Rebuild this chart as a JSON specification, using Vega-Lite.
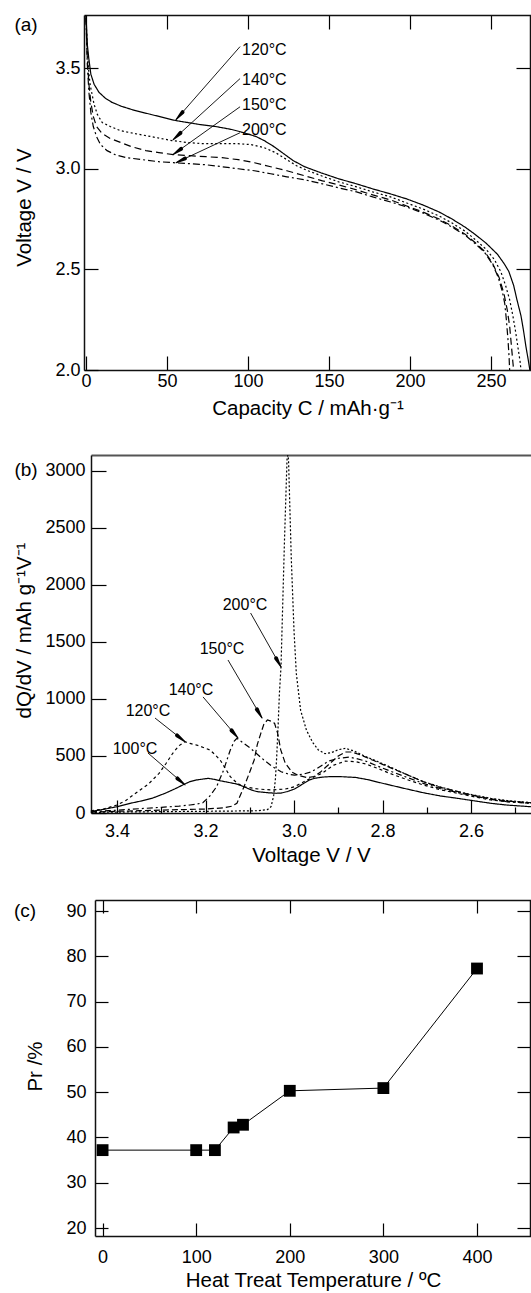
{
"$schema": "https://vega.github.io/schema/vega-lite/v6.json",
"width": 531, "height": 1293,
"autosize": {"type": "none"},
"padding": 0,
"background": "white",
"config": {
  "view": {"stroke": null},
  "font": "Liberation Sans",
  "axis": {"grid": false, "labelFont": "Liberation Sans", "titleFont": "Liberation Sans", "labelFontSize": 18, "titleFontSize": 20.5, "titleFontWeight": "normal", "labelColor": "#000", "titleColor": "#000", "tickColor": "#000", "domainColor": "#111", "domainWidth": 1.5, "tickWidth": 1.2, "labelFlush": false, "labelOverlap": false}
},
"datasets": {
  "a_curves": [
    {"t":"120","cap":0,"V":3.78},{"t":"120","cap":0.8,"V":3.62},{"t":"120","cap":1.7,"V":3.55},{"t":"120","cap":3,"V":3.47},{"t":"120","cap":5,"V":3.42},{"t":"120","cap":8,"V":3.38},{"t":"120","cap":12,"V":3.35},{"t":"120","cap":16,"V":3.33},{"t":"120","cap":22,"V":3.31},{"t":"120","cap":30,"V":3.29},{"t":"120","cap":40,"V":3.27},{"t":"120","cap":55,"V":3.24},{"t":"120","cap":70,"V":3.22},{"t":"120","cap":80,"V":3.21},{"t":"120","cap":90,"V":3.195},{"t":"120","cap":97,"V":3.18},{"t":"120","cap":105,"V":3.16},{"t":"120","cap":110,"V":3.14},{"t":"120","cap":116,"V":3.11},{"t":"120","cap":122,"V":3.075},{"t":"120","cap":128,"V":3.04},{"t":"120","cap":135,"V":3.01},{"t":"120","cap":145,"V":2.98},{"t":"120","cap":156,"V":2.95},{"t":"120","cap":167,"V":2.925},{"t":"120","cap":177,"V":2.9},{"t":"120","cap":188,"V":2.875},{"t":"120","cap":198,"V":2.85},{"t":"120","cap":208,"V":2.82},{"t":"120","cap":218,"V":2.785},{"t":"120","cap":226,"V":2.75},{"t":"120","cap":234,"V":2.71},{"t":"120","cap":240,"V":2.675},{"t":"120","cap":247,"V":2.63},{"t":"120","cap":254,"V":2.575},{"t":"120","cap":258,"V":2.53},{"t":"120","cap":261,"V":2.49},{"t":"120","cap":264,"V":2.42},{"t":"120","cap":266,"V":2.35},{"t":"120","cap":268.5,"V":2.27},{"t":"120","cap":270,"V":2.2},{"t":"120","cap":271.5,"V":2.12},{"t":"120","cap":273,"V":2.05},{"t":"120","cap":274,"V":2.0},
    {"t":"140","cap":0,"V":3.76},{"t":"140","cap":0.8,"V":3.6},{"t":"140","cap":1.5,"V":3.5},{"t":"140","cap":2.5,"V":3.42},{"t":"140","cap":3.5,"V":3.38},{"t":"140","cap":5,"V":3.32},{"t":"140","cap":7,"V":3.27},{"t":"140","cap":10,"V":3.23},{"t":"140","cap":15,"V":3.21},{"t":"140","cap":21,"V":3.19},{"t":"140","cap":30,"V":3.175},{"t":"140","cap":40,"V":3.16},{"t":"140","cap":53,"V":3.14},{"t":"140","cap":63,"V":3.13},{"t":"140","cap":72,"V":3.125},{"t":"140","cap":82,"V":3.125},{"t":"140","cap":93,"V":3.125},{"t":"140","cap":102,"V":3.12},{"t":"140","cap":110,"V":3.105},{"t":"140","cap":117,"V":3.08},{"t":"140","cap":124,"V":3.045},{"t":"140","cap":130,"V":3.015},{"t":"140","cap":137,"V":2.99},{"t":"140","cap":147,"V":2.96},{"t":"140","cap":156,"V":2.935},{"t":"140","cap":167,"V":2.91},{"t":"140","cap":177,"V":2.885},{"t":"140","cap":188,"V":2.86},{"t":"140","cap":198,"V":2.83},{"t":"140","cap":208,"V":2.8},{"t":"140","cap":218,"V":2.765},{"t":"140","cap":226,"V":2.73},{"t":"140","cap":234,"V":2.69},{"t":"140","cap":240,"V":2.65},{"t":"140","cap":247,"V":2.6},{"t":"140","cap":252,"V":2.55},{"t":"140","cap":256,"V":2.49},{"t":"140","cap":259,"V":2.42},{"t":"140","cap":261.5,"V":2.35},{"t":"140","cap":263.5,"V":2.27},{"t":"140","cap":265,"V":2.2},{"t":"140","cap":266.5,"V":2.12},{"t":"140","cap":268,"V":2.04},{"t":"140","cap":268.5,"V":2.0},
    {"t":"150","cap":0,"V":3.75},{"t":"150","cap":0.8,"V":3.55},{"t":"150","cap":1.8,"V":3.42},{"t":"150","cap":3,"V":3.33},{"t":"150","cap":4.5,"V":3.26},{"t":"150","cap":6.5,"V":3.21},{"t":"150","cap":10,"V":3.175},{"t":"150","cap":15,"V":3.15},{"t":"150","cap":20,"V":3.135},{"t":"150","cap":28,"V":3.11},{"t":"150","cap":37,"V":3.09},{"t":"150","cap":45,"V":3.08},{"t":"150","cap":54,"V":3.07},{"t":"150","cap":64,"V":3.065},{"t":"150","cap":74,"V":3.06},{"t":"150","cap":84,"V":3.055},{"t":"150","cap":94,"V":3.045},{"t":"150","cap":104,"V":3.03},{"t":"150","cap":114,"V":3.01},{"t":"150","cap":124,"V":2.99},{"t":"150","cap":135,"V":2.965},{"t":"150","cap":146,"V":2.94},{"t":"150","cap":156,"V":2.92},{"t":"150","cap":167,"V":2.895},{"t":"150","cap":177,"V":2.87},{"t":"150","cap":188,"V":2.845},{"t":"150","cap":198,"V":2.815},{"t":"150","cap":208,"V":2.785},{"t":"150","cap":218,"V":2.75},{"t":"150","cap":226,"V":2.715},{"t":"150","cap":234,"V":2.675},{"t":"150","cap":240,"V":2.635},{"t":"150","cap":246,"V":2.59},{"t":"150","cap":251,"V":2.53},{"t":"150","cap":255,"V":2.46},{"t":"150","cap":258,"V":2.38},{"t":"150","cap":260,"V":2.3},{"t":"150","cap":261.5,"V":2.22},{"t":"150","cap":262.5,"V":2.13},{"t":"150","cap":263.5,"V":2.04},{"t":"150","cap":264,"V":2.0},
    {"t":"200","cap":0,"V":3.75},{"t":"200","cap":0.8,"V":3.52},{"t":"200","cap":1.8,"V":3.38},{"t":"200","cap":3,"V":3.28},{"t":"200","cap":4.5,"V":3.21},{"t":"200","cap":6.5,"V":3.16},{"t":"200","cap":9,"V":3.12},{"t":"200","cap":13,"V":3.09},{"t":"200","cap":18,"V":3.07},{"t":"200","cap":25,"V":3.055},{"t":"200","cap":35,"V":3.045},{"t":"200","cap":45,"V":3.035},{"t":"200","cap":54,"V":3.03},{"t":"200","cap":64,"V":3.025},{"t":"200","cap":74,"V":3.02},{"t":"200","cap":84,"V":3.01},{"t":"200","cap":94,"V":3.0},{"t":"200","cap":104,"V":2.99},{"t":"200","cap":114,"V":2.975},{"t":"200","cap":124,"V":2.96},{"t":"200","cap":135,"V":2.945},{"t":"200","cap":146,"V":2.925},{"t":"200","cap":156,"V":2.905},{"t":"200","cap":167,"V":2.885},{"t":"200","cap":177,"V":2.86},{"t":"200","cap":188,"V":2.835},{"t":"200","cap":198,"V":2.81},{"t":"200","cap":208,"V":2.78},{"t":"200","cap":218,"V":2.745},{"t":"200","cap":226,"V":2.71},{"t":"200","cap":234,"V":2.67},{"t":"200","cap":240,"V":2.63},{"t":"200","cap":246,"V":2.585},{"t":"200","cap":251,"V":2.525},{"t":"200","cap":254.5,"V":2.46},{"t":"200","cap":257,"V":2.39},{"t":"200","cap":258.5,"V":2.33},{"t":"200","cap":259.5,"V":2.25},{"t":"200","cap":260.5,"V":2.15},{"t":"200","cap":261.2,"V":2.06},{"t":"200","cap":261.5,"V":2.0}
  ],
  "a_arrows": [
    {"t":"120","cap":95.1,"V":3.607,"cap2":55.6,"V2":3.244},
    {"t":"140","cap":95.1,"V":3.448,"cap2":53.7,"V2":3.144},
    {"t":"150","cap":95.1,"V":3.308,"cap2":53.7,"V2":3.07},
    {"t":"200","cap":95.1,"V":3.179,"cap2":55.6,"V2":3.03}
  ],
  "a_heads": [
    {"t":"120","k":0,"cap":59.6,"V":3.281},{"t":"120","k":1,"cap":55.6,"V":3.244},
    {"t":"140","k":0,"cap":58.3,"V":3.178},{"t":"140","k":1,"cap":53.7,"V":3.144},
    {"t":"150","k":0,"cap":58.7,"V":3.099},{"t":"150","k":1,"cap":53.7,"V":3.07},
    {"t":"200","k":0,"cap":61.1,"V":3.051},{"t":"200","k":1,"cap":55.6,"V":3.03}
  ],
  "a_notes": [
    {"lab":"120°C","cap":96.3,"V":3.592},
    {"lab":"140°C","cap":96.3,"V":3.443},
    {"lab":"150°C","cap":96.3,"V":3.318},
    {"lab":"200°C","cap":96.3,"V":3.194}
  ],
  "a_panel": [{"lab":"(a)","cap":-37,"V":3.716}],
  "b_curves": [
    {"t":"100","V":3.459,"q":15},{"t":"100","V":3.44,"q":25},{"t":"100","V":3.42,"q":40},{"t":"100","V":3.4,"q":55},{"t":"100","V":3.37,"q":85},{"t":"100","V":3.34,"q":110},{"t":"100","V":3.32,"q":130},{"t":"100","V":3.29,"q":175},{"t":"100","V":3.27,"q":210},{"t":"100","V":3.247,"q":254},{"t":"100","V":3.235,"q":275},{"t":"100","V":3.22,"q":290},{"t":"100","V":3.205,"q":298},{"t":"100","V":3.194,"q":304},{"t":"100","V":3.18,"q":295},{"t":"100","V":3.167,"q":283},{"t":"100","V":3.15,"q":270},{"t":"100","V":3.129,"q":254},{"t":"100","V":3.11,"q":225},{"t":"100","V":3.095,"q":200},{"t":"100","V":3.083,"q":187},{"t":"100","V":3.06,"q":178},{"t":"100","V":3.04,"q":173},{"t":"100","V":3.029,"q":175},{"t":"100","V":3.015,"q":188},{"t":"100","V":2.999,"q":210},{"t":"100","V":2.98,"q":255},{"t":"100","V":2.965,"q":290},{"t":"100","V":2.953,"q":305},{"t":"100","V":2.935,"q":315},{"t":"100","V":2.915,"q":320},{"t":"100","V":2.89,"q":318},{"t":"100","V":2.861,"q":312},{"t":"100","V":2.83,"q":290},{"t":"100","V":2.81,"q":270},{"t":"100","V":2.784,"q":246},{"t":"100","V":2.75,"q":215},{"t":"100","V":2.708,"q":178},{"t":"100","V":2.67,"q":150},{"t":"100","V":2.631,"q":129},{"t":"100","V":2.59,"q":105},{"t":"100","V":2.555,"q":85},{"t":"100","V":2.52,"q":70},{"t":"100","V":2.4644,"q":55},
    {"t":"120","V":3.459,"q":20},{"t":"120","V":3.43,"q":35},{"t":"120","V":3.4,"q":70},{"t":"120","V":3.38,"q":110},{"t":"120","V":3.358,"q":173},{"t":"120","V":3.33,"q":250},{"t":"120","V":3.305,"q":348},{"t":"120","V":3.29,"q":430},{"t":"120","V":3.274,"q":524},{"t":"120","V":3.26,"q":590},{"t":"120","V":3.247,"q":625},{"t":"120","V":3.235,"q":610},{"t":"120","V":3.22,"q":596},{"t":"120","V":3.205,"q":575},{"t":"120","V":3.19,"q":553},{"t":"120","V":3.178,"q":510},{"t":"120","V":3.167,"q":465},{"t":"120","V":3.155,"q":390},{"t":"120","V":3.144,"q":318},{"t":"120","V":3.128,"q":260},{"t":"120","V":3.113,"q":230},{"t":"120","V":3.08,"q":210},{"t":"120","V":3.052,"q":202},{"t":"120","V":3.02,"q":210},{"t":"120","V":2.999,"q":230},{"t":"120","V":2.97,"q":290},{"t":"120","V":2.937,"q":348},{"t":"120","V":2.91,"q":420},{"t":"120","V":2.884,"q":455},{"t":"120","V":2.86,"q":450},{"t":"120","V":2.838,"q":430},{"t":"120","V":2.81,"q":390},{"t":"120","V":2.784,"q":348},{"t":"120","V":2.75,"q":300},{"t":"120","V":2.708,"q":246},{"t":"120","V":2.67,"q":205},{"t":"120","V":2.631,"q":173},{"t":"120","V":2.59,"q":140},{"t":"120","V":2.555,"q":114},{"t":"120","V":2.52,"q":100},{"t":"120","V":2.4644,"q":85},
    {"t":"140","V":3.459,"q":10},{"t":"140","V":3.42,"q":20},{"t":"140","V":3.38,"q":30},{"t":"140","V":3.34,"q":40},{"t":"140","V":3.3,"q":50},{"t":"140","V":3.26,"q":60},{"t":"140","V":3.235,"q":70},{"t":"140","V":3.22,"q":78},{"t":"140","V":3.206,"q":90},{"t":"140","V":3.19,"q":150},{"t":"140","V":3.175,"q":230},{"t":"140","V":3.159,"q":377},{"t":"140","V":3.144,"q":553},{"t":"140","V":3.135,"q":630},{"t":"140","V":3.129,"q":655},{"t":"140","V":3.115,"q":615},{"t":"140","V":3.098,"q":567},{"t":"140","V":3.083,"q":515},{"t":"140","V":3.068,"q":465},{"t":"140","V":3.05,"q":410},{"t":"140","V":3.029,"q":362},{"t":"140","V":3.01,"q":338},{"t":"140","V":2.999,"q":333},{"t":"140","V":2.98,"q":340},{"t":"140","V":2.96,"q":362},{"t":"140","V":2.94,"q":410},{"t":"140","V":2.922,"q":455},{"t":"140","V":2.9,"q":480},{"t":"140","V":2.876,"q":490},{"t":"140","V":2.86,"q":478},{"t":"140","V":2.838,"q":455},{"t":"140","V":2.81,"q":410},{"t":"140","V":2.784,"q":370},{"t":"140","V":2.75,"q":320},{"t":"140","V":2.708,"q":260},{"t":"140","V":2.67,"q":215},{"t":"140","V":2.631,"q":180},{"t":"140","V":2.59,"q":145},{"t":"140","V":2.555,"q":120},{"t":"140","V":2.52,"q":100},{"t":"140","V":2.4644,"q":85},
    {"t":"150","V":3.459,"q":8},{"t":"150","V":3.4,"q":15},{"t":"150","V":3.35,"q":20},{"t":"150","V":3.3,"q":25},{"t":"150","V":3.25,"q":30},{"t":"150","V":3.2,"q":35},{"t":"150","V":3.16,"q":45},{"t":"150","V":3.14,"q":60},{"t":"150","V":3.129,"q":85},{"t":"150","V":3.113,"q":230},{"t":"150","V":3.1,"q":360},{"t":"150","V":3.09,"q":465},{"t":"150","V":3.083,"q":600},{"t":"150","V":3.075,"q":699},{"t":"150","V":3.068,"q":780},{"t":"150","V":3.06,"q":816},{"t":"150","V":3.052,"q":805},{"t":"150","V":3.044,"q":787},{"t":"150","V":3.037,"q":700},{"t":"150","V":3.03,"q":553},{"t":"150","V":3.02,"q":440},{"t":"150","V":3.005,"q":360},{"t":"150","V":2.99,"q":330},{"t":"150","V":2.97,"q":310},{"t":"150","V":2.955,"q":320},{"t":"150","V":2.94,"q":360},{"t":"150","V":2.92,"q":430},{"t":"150","V":2.9,"q":500},{"t":"150","V":2.884,"q":535},{"t":"150","V":2.87,"q":535},{"t":"150","V":2.85,"q":510},{"t":"150","V":2.82,"q":460},{"t":"150","V":2.784,"q":400},{"t":"150","V":2.75,"q":345},{"t":"150","V":2.708,"q":275},{"t":"150","V":2.67,"q":225},{"t":"150","V":2.631,"q":190},{"t":"150","V":2.59,"q":150},{"t":"150","V":2.555,"q":125},{"t":"150","V":2.52,"q":105},{"t":"150","V":2.4644,"q":90},
    {"t":"200","V":3.459,"q":5},{"t":"200","V":3.4,"q":8},{"t":"200","V":3.3,"q":12},{"t":"200","V":3.2,"q":15},{"t":"200","V":3.12,"q":18},{"t":"200","V":3.08,"q":20},{"t":"200","V":3.06,"q":30},{"t":"200","V":3.052,"q":55},{"t":"200","V":3.046,"q":150},{"t":"200","V":3.042,"q":300},{"t":"200","V":3.039,"q":500},{"t":"200","V":3.036,"q":757},{"t":"200","V":3.033,"q":1050},{"t":"200","V":3.0294,"q":1283},{"t":"200","V":3.0215,"q":2394},{"t":"200","V":3.0158,"q":3100},{"t":"200","V":3.014,"q":3500},{"t":"200","V":3.0124,"q":3100},{"t":"200","V":3.0063,"q":2249},{"t":"200","V":3.0,"q":1600},{"t":"200","V":2.9948,"q":1225},{"t":"200","V":2.985,"q":900},{"t":"200","V":2.972,"q":728},{"t":"200","V":2.958,"q":620},{"t":"200","V":2.945,"q":553},{"t":"200","V":2.93,"q":520},{"t":"200","V":2.915,"q":530},{"t":"200","V":2.9,"q":555},{"t":"200","V":2.884,"q":567},{"t":"200","V":2.865,"q":545},{"t":"200","V":2.838,"q":494},{"t":"200","V":2.81,"q":450},{"t":"200","V":2.784,"q":406},{"t":"200","V":2.75,"q":345},{"t":"200","V":2.708,"q":275},{"t":"200","V":2.67,"q":230},{"t":"200","V":2.631,"q":187},{"t":"200","V":2.59,"q":155},{"t":"200","V":2.555,"q":129},{"t":"200","V":2.52,"q":110},{"t":"200","V":2.4644,"q":90}
  ],
  "b_arrows": [
    {"t":"100","V":3.33,"q":526,"V2":3.2463,"q2":246},
    {"t":"120","V":3.3141,"q":833,"V2":3.2463,"q2":625},
    {"t":"140","V":3.2056,"q":1018,"V2":3.1266,"q2":658},
    {"t":"150","V":3.1492,"q":1342,"V2":3.0723,"q2":833},
    {"t":"200","V":3.0981,"q":1754,"V2":3.0294,"q2":1281}
  ],
  "b_heads": [
    {"t":"100","k":0,"V":3.2635,"q":303},{"t":"100","k":1,"V":3.2463,"q":246},
    {"t":"120","k":0,"V":3.2642,"q":680},{"t":"120","k":1,"V":3.2463,"q":625},
    {"t":"140","k":0,"V":3.1412,"q":725},{"t":"140","k":1,"V":3.1266,"q":658},
    {"t":"150","k":0,"V":3.0838,"q":909},{"t":"150","k":1,"V":3.0723,"q":833},
    {"t":"200","k":0,"V":3.0405,"q":1357},{"t":"200","k":1,"V":3.0294,"q":1281}
  ],
  "b_notes": [
    {"lab":"100°C","V":3.3593,"q":561},
    {"lab":"120°C","V":3.33,"q":895},
    {"lab":"140°C","V":3.2328,"q":1079},
    {"lab":"150°C","V":3.1627,"q":1439},
    {"lab":"200°C","V":3.1107,"q":1825}
  ],
  "b_panel": [{"lab":"(b)","V":3.6056,"q":3009}],
  "c_data": [
    {"T":0,"P":37.2},{"T":100,"P":37.2},{"T":120,"P":37.2},{"T":140,"P":42.2},{"T":150,"P":42.8},{"T":200,"P":50.3},{"T":300,"P":50.9},{"T":400,"P":77.3}
  ],
  "c_panel": [{"lab":"(c)","T":-82.9,"P":90}]
},
"layer": [
  {
    "layer": [
      {"data": {"name": "a_curves"},
       "mark": {"type": "line", "stroke": "black", "strokeWidth": 1.2},
       "encoding": {
         "x": {"field": "cap", "type": "quantitative",
               "scale": {"domain": [-1.23, 274.7], "range": [84, 531], "nice": false, "zero": false},
               "axis": {"orient": "bottom", "offset": -923, "values": [0, 50, 100, 150, 200, 250], "tickSize": -14, "labelPadding": 16, "title": "Capacity C / mAh·g⁻¹", "titleY": 28}},
         "y": {"field": "V", "type": "quantitative",
               "scale": {"domain": [2.0, 3.764], "range": [370, 15], "nice": false, "zero": false, "clamp": true},
               "axis": {"orient": "left", "offset": -84, "values": [2.0, 2.5, 3.0, 3.5], "format": ".1f", "tickSize": -14, "labelPadding": 18, "title": "Voltage V / V", "titleX": -50, "titleY": 207}},
         "strokeDash": {"field": "t", "type": "nominal",
               "scale": {"domain": ["120", "140", "150", "200"], "range": [[1, 0], [2, 2.5], [7, 4], [7, 3, 2, 3]]}, "legend": null}
       }},
      {"data": {"name": "a_curves"},
       "mark": {"type": "point", "opacity": 0},
       "encoding": {
         "x": {"field": "cap", "type": "quantitative",
               "axis": {"orient": "top", "offset": -15, "values": [0, 50, 100, 150, 200, 250], "tickSize": -14, "labels": false, "title": null}},
         "y": {"field": "V", "type": "quantitative",
               "axis": {"orient": "right", "offset": -1, "values": [2.5, 3.0, 3.5], "tickSize": -14, "labels": false, "title": null}}
       }},
      {"data": {"name": "a_arrows"},
       "mark": {"type": "rule", "stroke": "black", "strokeWidth": 0.9},
       "encoding": {
         "x": {"field": "cap", "type": "quantitative", "axis": null},
         "y": {"field": "V", "type": "quantitative", "axis": null},
         "x2": {"field": "cap2"},
         "y2": {"field": "V2"}
       }},
      {"data": {"name": "a_heads"},
       "mark": {"type": "trail", "color": "black"},
       "encoding": {
         "x": {"field": "cap", "type": "quantitative", "axis": null},
         "y": {"field": "V", "type": "quantitative", "axis": null},
         "detail": {"field": "t"},
         "order": {"field": "k"},
         "size": {"field": "k", "type": "quantitative", "scale": {"domain": [0, 1], "range": [4, 0], "zero": false}, "legend": null}
       }},
      {"data": {"name": "a_notes"},
       "mark": {"type": "text", "align": "left", "baseline": "middle", "fontSize": 16, "font": "Liberation Sans", "color": "black"},
       "encoding": {
         "x": {"field": "cap", "type": "quantitative", "axis": null},
         "y": {"field": "V", "type": "quantitative", "axis": null},
         "text": {"field": "lab"}
       }},
      {"data": {"name": "a_panel"},
       "mark": {"type": "text", "align": "center", "baseline": "middle", "fontSize": 19, "color": "black"},
       "encoding": {
         "x": {"field": "cap", "type": "quantitative", "axis": null},
         "y": {"field": "V", "type": "quantitative", "axis": null},
         "text": {"field": "lab"}
       }}
    ],
    "resolve": {"scale": {"x": "shared", "y": "shared"}, "axis": {"x": "independent", "y": "independent"}}
  },
  {
    "layer": [
      {"data": {"name": "b_curves"},
       "mark": {"type": "line", "stroke": "black", "strokeWidth": 1.2},
       "encoding": {
         "x": {"field": "V", "type": "quantitative",
               "scale": {"domain": [2.4644, 3.4588], "reverse": true, "range": [91, 531], "nice": false, "zero": false},
               "axis": {"orient": "bottom", "offset": -480, "values": [3.4, 3.2, 3.0, 2.8, 2.6], "format": ".1f", "tickSize": -13, "labelPadding": 22, "title": "Voltage V / V", "titleY": 32}},
         "y": {"field": "q", "type": "quantitative",
               "scale": {"domain": [0, 3140], "range": [813, 455], "nice": false, "zero": false, "clamp": true},
               "axis": {"orient": "left", "offset": -91, "values": [0, 500, 1000, 1500, 2000, 2500, 3000], "format": "d", "tickSize": -15, "labelPadding": 21, "title": "dQ/dV / mAh g⁻¹V⁻¹", "titleX": -57, "titleY": 630}},
         "strokeDash": {"field": "t", "type": "nominal",
               "scale": {"domain": ["100", "120", "140", "150", "200"], "range": [[1, 0], [3, 3], [6, 3, 2, 3], [6, 3], [2, 2]]}, "legend": null},
         "order": {"field": "V", "sort": "descending"}
       }},
      {"data": {"name": "b_curves"},
       "mark": {"type": "point", "opacity": 0},
       "encoding": {
         "x": {"field": "V", "type": "quantitative",
               "axis": {"orient": "bottom", "offset": -480, "values": [3.3, 3.1, 2.9, 2.7, 2.5], "tickSize": -6, "labels": false, "domain": false, "title": null}}
       }},
      {"data": {"name": "b_curves"},
       "mark": {"type": "point", "opacity": 0},
       "encoding": {
         "x": {"field": "V", "type": "quantitative",
               "axis": {"orient": "top", "offset": -455, "ticks": false, "labels": false, "title": null, "domainColor": "#555", "domainWidth": 2}}
       }},
      {"data": {"name": "b_arrows"},
       "mark": {"type": "rule", "stroke": "black", "strokeWidth": 0.9},
       "encoding": {
         "x": {"field": "V", "type": "quantitative", "axis": null},
         "y": {"field": "q", "type": "quantitative", "axis": null},
         "x2": {"field": "V2"},
         "y2": {"field": "q2"}
       }},
      {"data": {"name": "b_heads"},
       "mark": {"type": "trail", "color": "black"},
       "encoding": {
         "x": {"field": "V", "type": "quantitative", "axis": null},
         "y": {"field": "q", "type": "quantitative", "axis": null},
         "detail": {"field": "t"},
         "order": {"field": "k"},
         "size": {"field": "k", "type": "quantitative", "scale": {"domain": [0, 1], "range": [4, 0], "zero": false}, "legend": null}
       }},
      {"data": {"name": "b_notes"},
       "mark": {"type": "text", "align": "center", "baseline": "middle", "fontSize": 16, "font": "Liberation Sans", "color": "black"},
       "encoding": {
         "x": {"field": "V", "type": "quantitative", "axis": null},
         "y": {"field": "q", "type": "quantitative", "axis": null},
         "text": {"field": "lab"}
       }},
      {"data": {"name": "b_panel"},
       "mark": {"type": "text", "align": "center", "baseline": "middle", "fontSize": 19, "color": "black"},
       "encoding": {
         "x": {"field": "V", "type": "quantitative", "axis": null},
         "y": {"field": "q", "type": "quantitative", "axis": null},
         "text": {"field": "lab"}
       }}
    ],
    "resolve": {"scale": {"x": "shared", "y": "shared"}, "axis": {"x": "independent", "y": "independent"}}
  },
  {
    "layer": [
      {"data": {"name": "c_data"},
       "mark": {"type": "line", "stroke": "black", "strokeWidth": 1},
       "encoding": {
         "x": {"field": "T", "type": "quantitative",
               "scale": {"domain": [-8.1, 457.7], "range": [95, 531], "nice": false, "zero": false},
               "axis": {"orient": "bottom", "offset": -57, "values": [0, 100, 200, 300, 400], "format": "d", "tickSize": -13, "labelPadding": 25, "title": "Heat Treat Temperature / ºC", "titleY": 34}},
         "y": {"field": "P", "type": "quantitative",
               "scale": {"domain": [18.24, 92.43], "range": [1236, 900], "nice": false, "zero": false},
               "axis": {"orient": "left", "offset": -95, "values": [20, 30, 40, 50, 60, 70, 80, 90], "format": "d", "tickSize": -13, "labelPadding": 22, "title": "Pr /%", "titleX": -50, "titleY": 1066}}
       }},
      {"data": {"name": "c_data"},
       "mark": {"type": "square", "size": 140, "color": "black", "opacity": 1},
       "encoding": {
         "x": {"field": "T", "type": "quantitative",
               "axis": {"orient": "top", "offset": -900, "values": [0, 100, 200, 300, 400], "tickSize": -13, "labels": false, "title": null}},
         "y": {"field": "P", "type": "quantitative",
               "axis": {"orient": "right", "offset": -1, "values": [20, 30, 40, 50, 60, 70, 80, 90], "tickSize": -13, "labels": false, "title": null}}
       }},
      {"data": {"name": "c_panel"},
       "mark": {"type": "text", "align": "center", "baseline": "middle", "fontSize": 19, "color": "black"},
       "encoding": {
         "x": {"field": "T", "type": "quantitative", "axis": null},
         "y": {"field": "P", "type": "quantitative", "axis": null},
         "text": {"field": "lab"}
       }}
    ],
    "resolve": {"scale": {"x": "shared", "y": "shared"}, "axis": {"x": "independent", "y": "independent"}}
  }
],
"resolve": {"scale": {"x": "independent", "y": "independent", "strokeDash": "independent", "size": "independent"}, "axis": {"x": "independent", "y": "independent"}}
}
